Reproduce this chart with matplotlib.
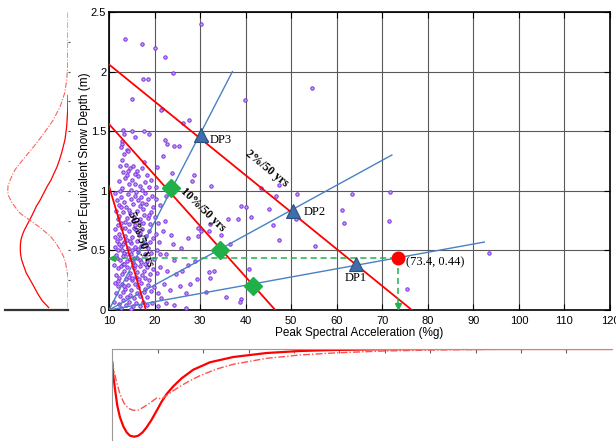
# Snow depth vs peak spectral acceleration, with marginal densities
import numpy as np
import matplotlib.pyplot as plt

plt.rcParams['font.family'] = ['Liberation Sans', 'DejaVu Sans']

obs_x = [30.3, 13.5, 17.2, 20.0, 22.4, 24.0, 54.5, 15.0, 39.9, 17.5, 18.5, 21.7, 21.5,
         26.2, 27.6, 13.1, 13.3, 15.1, 17.6, 18.8, 15.6, 12.8, 12.9, 22.4, 22.7, 24.2,
         25.4, 14.0, 31.4, 32.5, 43.3, 47.3, 46.7, 51.2, 39.0, 40.1, 45.1, 41.1, 38.4,
         36.2, 32.2, 30.3, 34.7, 46.0, 51.1, 47.4, 55.2, 36.6, 31.9, 33.1, 32.1, 40.7,
         31.3, 35.6, 38.9, 38.8, 63.4, 71.6, 61.1, 61.6, 71.5, 93.4, 75.4,
         23.9, 28.7, 28.2, 27.3, 29.6, 29.6, 32.0, 20.5, 21.8, 20.4, 21.2, 22.5, 20.8,
         21.9, 22.4, 23.6, 24.1, 20.9, 25.9, 22.6, 24.3, 27.4, 28.8, 26.1, 29.3, 27.8,
         # dense cluster
         12.6, 13.3, 14.2, 12.9, 13.8, 14.6, 15.2, 16.1, 17.3, 13.1, 15.7, 18.4, 17.6,
         12.4, 12.2, 13.5, 14.3, 15.0, 16.4, 17.8, 18.8, 12.8, 14.9, 16.7, 19.3, 13.9,
         17.2, 11.4, 12.6, 13.2, 14.1, 14.8, 15.6, 16.3, 17.1, 17.9, 18.6, 19.4, 12.1,
         13.7, 15.3, 16.8, 18.2, 19.7, 11.8, 20.3, 11.5, 12.3, 13.1, 13.9, 14.6, 15.4,
         16.2, 16.9, 17.7, 18.5, 19.2, 12.7, 14.3, 15.8, 17.4, 18.9, 20.1, 11.9, 13.5,
         16.5, 11.4, 12.1, 12.9, 13.6, 14.4, 15.1, 15.9, 16.6, 17.3, 18.1, 18.8, 19.6,
         11.8, 13.2, 14.8, 16.2, 17.8, 19.1, 20.4, 12.5, 14.0, 15.5, 11.3, 12.0, 12.7,
         13.4, 14.2, 14.9, 15.7, 16.4, 17.1, 17.9, 18.6, 19.3, 11.7, 12.4, 13.1, 13.9,
         14.6, 15.3, 16.1, 16.9, 18.3, 19.8, 20.6, 21.3, 15.0, 12.9, 11.2, 11.9, 12.6,
         13.3, 14.0, 14.7, 15.4, 16.2, 16.9, 17.6, 18.4, 19.1, 11.5, 12.2, 12.9, 13.7,
         14.4, 15.1, 15.9, 16.6, 17.3, 18.0, 18.8, 19.6, 20.5, 13.0, 15.7, 17.9, 21.2,
         22.8, 24.7, 11.3, 12.0, 12.8, 13.5, 14.2, 14.9, 15.7, 16.4, 17.1, 17.8, 18.6,
         19.3, 11.6, 12.4, 13.1, 13.9, 14.6, 15.4, 16.1, 16.8, 17.6, 18.3, 19.9, 20.7,
         22.1, 23.4, 21.4, 25.6, 26.8, 11.1, 12.2, 13.0, 13.8, 14.5, 15.3, 16.0, 16.8,
         17.5, 18.4, 19.4, 20.8, 12.6, 14.9, 22.5, 24.3, 26.9,
         11.6, 12.3, 13.2, 14.0, 14.7, 15.5, 16.3, 17.0, 12.0, 13.6, 15.2, 16.8, 11.4,
         12.7, 14.4, 16.0, 17.5, 18.7, 11.9, 13.4, 15.0, 12.5, 14.1, 15.8, 17.2, 13.0]
obs_y = [2.40, 2.27, 2.23, 2.20, 2.12, 1.99, 1.86, 1.77, 1.76, 1.94, 1.94, 1.69, 1.68,
         1.57, 1.59, 1.51, 1.48, 1.50, 1.50, 1.48, 1.45, 1.42, 1.39, 1.43, 1.39, 1.38,
         1.38, 1.34, 1.42, 1.04, 1.02, 1.05, 0.96, 0.97, 0.87, 0.86, 0.85, 0.78, 0.76,
         0.76, 0.72, 0.66, 0.63, 0.71, 0.76, 0.59, 0.54, 0.55, 0.32, 0.33, 0.27, 0.34,
         0.15, 0.11, 0.09, 0.07, 0.97, 0.99, 0.84, 0.73, 0.75, 0.48, 0.18,
         1.15, 1.13, 1.08, 0.60, 0.69, 0.62, 0.66, 1.20, 1.29, 1.03, 0.88, 0.96, 0.73,
         0.66, 0.75, 0.63, 0.55, 0.57, 0.52, 0.47, 0.42, 0.38, 0.41, 0.33, 0.26, 0.22,
         # dense cluster
         1.37, 1.31, 1.33, 1.26, 1.22, 1.19, 1.21, 1.17, 1.19, 1.16, 1.14, 1.13, 1.24,
         1.21, 1.08, 1.11, 1.06, 1.09, 1.12, 1.07, 1.03, 1.02, 1.01, 1.04, 1.09, 1.13,
         1.01, 0.98, 0.95, 0.91, 0.97, 0.93, 0.96, 0.92, 0.95, 0.98, 0.93, 0.96, 0.88,
         0.86, 0.89, 0.87, 0.89, 0.86, 0.92, 0.93, 0.83, 0.79, 0.82, 0.77, 0.81, 0.78,
         0.83, 0.76, 0.80, 0.77, 0.82, 0.73, 0.72, 0.71, 0.73, 0.72, 0.78, 0.76, 0.74,
         0.74, 0.68, 0.64, 0.69, 0.62, 0.66, 0.61, 0.67, 0.63, 0.68, 0.62, 0.66, 0.60,
         0.58, 0.57, 0.56, 0.58, 0.56, 0.57, 0.64, 0.60, 0.59, 0.69, 0.53, 0.50, 0.54,
         0.48, 0.52, 0.47, 0.53, 0.49, 0.54, 0.47, 0.52, 0.48, 0.44, 0.42, 0.45, 0.41,
         0.43, 0.40, 0.44, 0.42, 0.41, 0.43, 0.50, 0.47, 0.50, 0.50, 0.38, 0.35, 0.37,
         0.33, 0.36, 0.31, 0.35, 0.32, 0.37, 0.33, 0.36, 0.30, 0.29, 0.27, 0.30, 0.26,
         0.28, 0.25, 0.28, 0.26, 0.29, 0.27, 0.25, 0.34, 0.31, 0.39, 0.38, 0.39, 0.36,
         0.33, 0.30, 0.23, 0.20, 0.22, 0.18, 0.21, 0.17, 0.22, 0.19, 0.23, 0.18, 0.21,
         0.16, 0.14, 0.12, 0.15, 0.11, 0.13, 0.10, 0.14, 0.12, 0.15, 0.11, 0.19, 0.14,
         0.22, 0.17, 0.10, 0.20, 0.14, 0.07, 0.05, 0.08, 0.04, 0.07, 0.03, 0.06, 0.03,
         0.07, 0.04, 0.06, 0.03, 0.02, 0.01, 0.06, 0.04, 0.02,
         0.46, 0.55, 0.39, 0.47, 0.58, 0.44, 0.51, 0.40, 0.71, 0.69, 0.75, 0.65, 0.61,
         0.86, 0.84, 0.99, 0.85, 0.80, 0.24, 0.20, 0.27, 1.00, 1.17, 1.06, 0.90, 0.55]

# ---- hazard contours (start/end points) ----
haz_labels = ['2%/50 yrs', '10%/50 yrs', '50%/50 yrs']
haz_x = [[10, 76.5], [10, 46.5], [10, 18.1]]
haz_y = [[2.06, 0.0], [1.56, 0.0], [1.04, 0.0]]
haz_text_x = [44.6, 30.6, 17.0]
haz_text_y = [1.19, 0.84, 0.60]
haz_text_rot = [-39, -44, -70]

# ---- radial lines from the origin ----
ray_x = [[10, 37.1], [10, 72.1], [10, 92.4]]
ray_y = [[0, 2.0], [0, 1.30], [0, 0.57]]

# design points (triangles) and intersections (diamonds)
dp_names = ['DP3', 'DP2', 'DP1']
dp_x = [30.1, 50.4, 64.2]
dp_y = [1.47, 0.83, 0.39]
dia_x = [23.6, 34.4, 41.7]
dia_y = [1.02, 0.50, 0.20]
pt_x, pt_y = 73.4, 0.44

# ---- marginal density of snow depth (left) ----
sd_y_solid = [0.02, 0.08, 0.14, 0.20, 0.26, 0.31, 0.37, 0.42, 0.46, 0.50, 0.55, 0.59,
              0.63, 0.67, 0.74, 0.80, 0.87, 0.92, 0.98, 1.04, 1.09, 1.15, 1.20, 1.26,
              1.32, 1.38, 1.43, 1.54, 1.68, 1.80]
sd_d_solid = [19.3, 26.0, 30.5, 34.3, 38.3, 41.7, 44.3, 46.3, 47.3, 47.7, 47.6, 47.0,
              45.6, 43.7, 39.3, 35.6, 31.7, 28.0, 24.3, 20.6, 17.0, 13.8, 11.0, 8.5,
              6.3, 4.5, 3.0, 1.3, 0.3, 0.0]
sd_y_dash = [0.02, 0.28, 0.39, 0.45, 0.50, 0.56, 0.62, 0.66, 0.70, 0.76, 0.81, 0.86,
             0.90, 0.95, 0.99, 1.04, 1.08, 1.13, 1.18, 1.27, 1.37, 1.48, 1.59, 1.71,
             1.82, 1.93, 2.04, 2.50]
sd_d_dash = [0.0, 0.0, 2.3, 4.5, 7.7, 12.0, 17.7, 23.5, 29.3, 39.3, 47.7, 52.5,
             56.0, 59.0, 60.3, 60.0, 58.3, 55.8, 52.7, 44.3, 34.3, 24.3, 15.0, 7.7,
             3.3, 1.3, 0.3, 0.0]

# ---- marginal density of PSA (bottom) ----
pa_x_solid = [10.0, 10.22, 10.59, 11.1, 11.69, 12.42, 13.16, 13.89, 14.85, 15.73,
              16.68, 17.56, 18.66, 19.77, 20.87, 21.97, 23.44, 25.27, 27.84, 31.5,
              36.65, 44.0, 51.3, 58.7, 69.7, 80.7, 120.0]
pa_d_solid = [13.3, 26.7, 40.0, 56.7, 68.3, 77.3, 83.3, 86.7, 87.7, 86.7,
              83.3, 78.3, 70.7, 61.7, 52.7, 45.0, 37.3, 29.3, 20.7, 13.3,
              8.0, 4.0, 2.0, 1.0, 0.3, 0.0, 0.0]
pa_x_dash = [10.0, 10.37, 10.95, 11.69, 12.57, 13.52, 14.63, 15.73, 16.83, 18.3,
             19.77, 20.87, 22.7, 24.9, 27.1, 29.3, 33.0, 36.65, 44.0, 51.3,
             58.7, 69.7, 80.7, 95.4, 120.0]
pa_d_dash = [13.3, 21.7, 33.3, 45.0, 54.0, 59.3, 61.3, 61.0, 58.3, 54.0,
             49.0, 50.0, 44.0, 37.3, 31.7, 26.7, 20.0, 15.3, 9.3, 6.0,
             4.0, 2.0, 1.0, 0.3, 0.0]

W, H = 616, 443
fig = plt.figure(figsize=(W / 100, H / 100), dpi=100)

# main axes
ax = fig.add_axes([109 / W, 1 - 310 / H, 501 / W, 298 / H])
ax.set_xlim(10, 120)
ax.set_ylim(0, 2.5)
ax.set_xticks(range(10, 121, 10))
ax.set_yticks([0, 0.5, 1, 1.5, 2, 2.5])
ax.set_yticklabels(['0', '0.5', '1', '1.5', '2', '2.5'])
ax.grid(True, color='0.35', lw=0.8)
ax.set_axisbelow(True)
ax.tick_params(direction='in', top=True, right=True, length=4, labelsize=8)
ax.tick_params(axis='x', pad=4)
ax.tick_params(axis='y', pad=2)
for s in ax.spines.values():
    s.set_linewidth(1.2)
ax.set_xlabel('Peak Spectral Acceleration (%g)', fontsize=8.5, labelpad=1)
ax.set_ylabel('Water Equivalent Snow Depth (m)', fontsize=8.5, labelpad=0)

ax.scatter(obs_x, obs_y, s=6, facecolors='#c3a0f7', edgecolors='#7b2fe0',
           linewidths=0.7, zorder=3, clip_on=True)

for xs, ys in zip(ray_x, ray_y):
    ax.plot(xs, ys, color='#4a80c4', lw=1.0, zorder=4)
for xs, ys in zip(haz_x, haz_y):
    ax.plot(xs, ys, color='#ff0000', lw=1.3, zorder=4)
for lab, tx, ty, r in zip(haz_labels, haz_text_x, haz_text_y, haz_text_rot):
    ax.text(tx, ty, lab, rotation=r, rotation_mode='anchor', ha='center', va='center',
            family='Liberation Serif', fontweight='bold', fontsize=8.5, zorder=6)

# green dashed guides with arrow heads
ax.plot([10.6, pt_x], [pt_y, pt_y], color='#22b14c', lw=1.1, ls=(0, (4, 2.5)), zorder=4)
ax.plot([pt_x, pt_x], [pt_y, 0.03], color='#22b14c', lw=1.1, ls=(0, (4, 2.5)), zorder=4)
ax.plot([10.6], [pt_y], marker='<', ms=4, color='#22b14c', zorder=4)
ax.plot([pt_x], [0.03], marker='v', ms=4, color='#22b14c', zorder=4)

ax.plot(dp_x, dp_y, ls='none', marker='^', ms=10, mfc='#3f6ea8', mec='#2c5080',
        mew=0.8, zorder=5)
ax.text(dp_x[0] + 2.0, dp_y[0] - 0.04, dp_names[0], family='Liberation Serif',
        fontsize=9, va='center', zorder=6)
ax.text(dp_x[1] + 2.4, dp_y[1] - 0.01, dp_names[1], family='Liberation Serif',
        fontsize=9, va='center', zorder=6)
ax.text(dp_x[2], dp_y[2] - 0.12, dp_names[2], family='Liberation Serif',
        fontsize=9, ha='center', va='center', zorder=6)
ax.plot(dia_x, dia_y, ls='none', marker='D', ms=9, mfc='#1fb04a', mec='#1fb04a', zorder=5)
ax.plot([pt_x], [pt_y], ls='none', marker='o', ms=9, mfc='#ff0000', mec='#ff0000', zorder=5)
ax.text(pt_x + 1.8, pt_y - 0.04, '(%.1f, %.2f)' % (pt_x, pt_y), family='Liberation Serif',
        fontsize=9, va='center', zorder=6)

# left marginal (snow depth)
axl = fig.add_axes([5 / W, 1 - 310 / H, 63 / W, 298 / H])
axl.plot(sd_d_solid, sd_y_solid, color='#ff0000', lw=0.9)
axl.plot(sd_d_dash, sd_y_dash, color='#ff6060', lw=0.8, ls=(0, (5, 1.5, 1, 1.5)))
axl.set_xlim(63, 0)
axl.set_ylim(0, 2.5)
for k in ['top', 'left', 'right']:
    axl.spines[k].set_visible(False)
axl.spines['bottom'].set_color('0.2')
axl.spines['bottom'].set_linewidth(1.6)
axl.set_xticks([])
axl.set_yticks(np.arange(0.25, 2.5, 0.25))
axl.tick_params(axis='y', left=False, right=True, labelleft=False, length=1.5,
                width=0.8, color='0.3')
axl.patch.set_alpha(0)

# bottom marginal (PSA)
axb = fig.add_axes([112.3 / W, 1 - 440 / H, 499.4 / W, 91 / H])
axb.plot(pa_x_solid, pa_d_solid, color='#ff0000', lw=1.6)
axb.plot(pa_x_dash, pa_d_dash, color='#ff5050', lw=1.0, ls=(0, (5, 1.5, 1, 1.5)))
axb.set_xlim(10, 120)
axb.set_ylim(91, 0)
for k in ['bottom', 'right']:
    axb.spines[k].set_visible(False)
for k in ['top', 'left']:
    axb.spines[k].set_color('0.6')
    axb.spines[k].set_linewidth(0.8)
axb.set_xticks(range(20, 120, 10))
axb.set_yticks([])
axb.tick_params(axis='x', bottom=False, top=True, labelbottom=False, direction='in',
                length=3, color='0.4')
axb.patch.set_alpha(0)

fig.savefig('out.png', dpi=100)
